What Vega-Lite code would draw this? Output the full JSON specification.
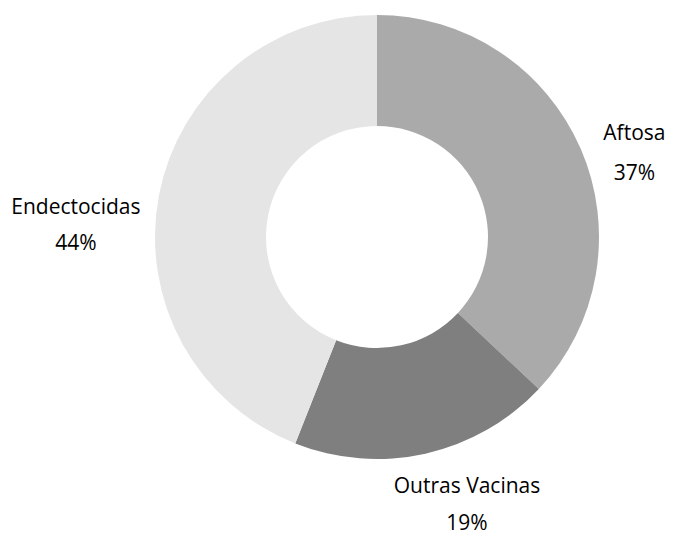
{
  "$schema": "https://vega.github.io/schema/vega-lite/v6.json",
  "width": 444,
  "height": 444,
  "autosize": {"type": "none"},
  "padding": {"left": 155, "top": 15, "right": 78, "bottom": 78},
  "background": "white",
  "view": {"stroke": null},
  "data": {
    "values": [
      {"categoria": "Aftosa", "valor": 37, "ordem": 1, "rotulo": "37%"},
      {"categoria": "Outras Vacinas", "valor": 19, "ordem": 2, "rotulo": "19%"},
      {"categoria": "Endectocidas", "valor": 44, "ordem": 3, "rotulo": "44%"}
    ]
  },
  "encoding": {
    "theta": {"field": "valor", "type": "quantitative", "stack": true},
    "order": {"field": "ordem", "type": "quantitative"}
  },
  "layer": [
    {
      "mark": {"type": "arc", "outerRadius": 222, "innerRadius": 111, "stroke": null},
      "encoding": {
        "color": {
          "field": "categoria",
          "type": "nominal",
          "scale": {"domain": ["Aftosa", "Outras Vacinas", "Endectocidas"], "range": ["#aaaaaa", "#7f7f7f", "#e5e5e5"]},
          "legend": null
        }
      }
    },
    {
      "mark": {"type": "text", "radius": 275, "dx": 5, "dy": 6, "font": "Open Sans", "fontSize": 21, "color": "#000000", "align": "center", "baseline": "middle", "lineHeight": 40},
      "encoding": {"text": {"condition": {"test": "datum.categoria === 'Aftosa'", "value": ["Aftosa", "37%"]}, "value": ""}}
    },
    {
      "mark": {"type": "text", "radius": 275, "dx": 30, "dy": -18, "font": "Open Sans", "fontSize": 21, "color": "#000000", "align": "center", "baseline": "middle", "lineHeight": 37},
      "encoding": {"text": {"condition": {"test": "datum.categoria === 'Outras Vacinas'", "value": ["Outras Vacinas", "19%"]}, "value": ""}}
    },
    {
      "mark": {"type": "text", "radius": 275, "dx": -31, "dy": 23, "font": "Open Sans", "fontSize": 21, "color": "#000000", "align": "center", "baseline": "middle", "lineHeight": 36},
      "encoding": {"text": {"condition": {"test": "datum.categoria === 'Endectocidas'", "value": ["Endectocidas", "44%"]}, "value": ""}}
    }
  ]
}
